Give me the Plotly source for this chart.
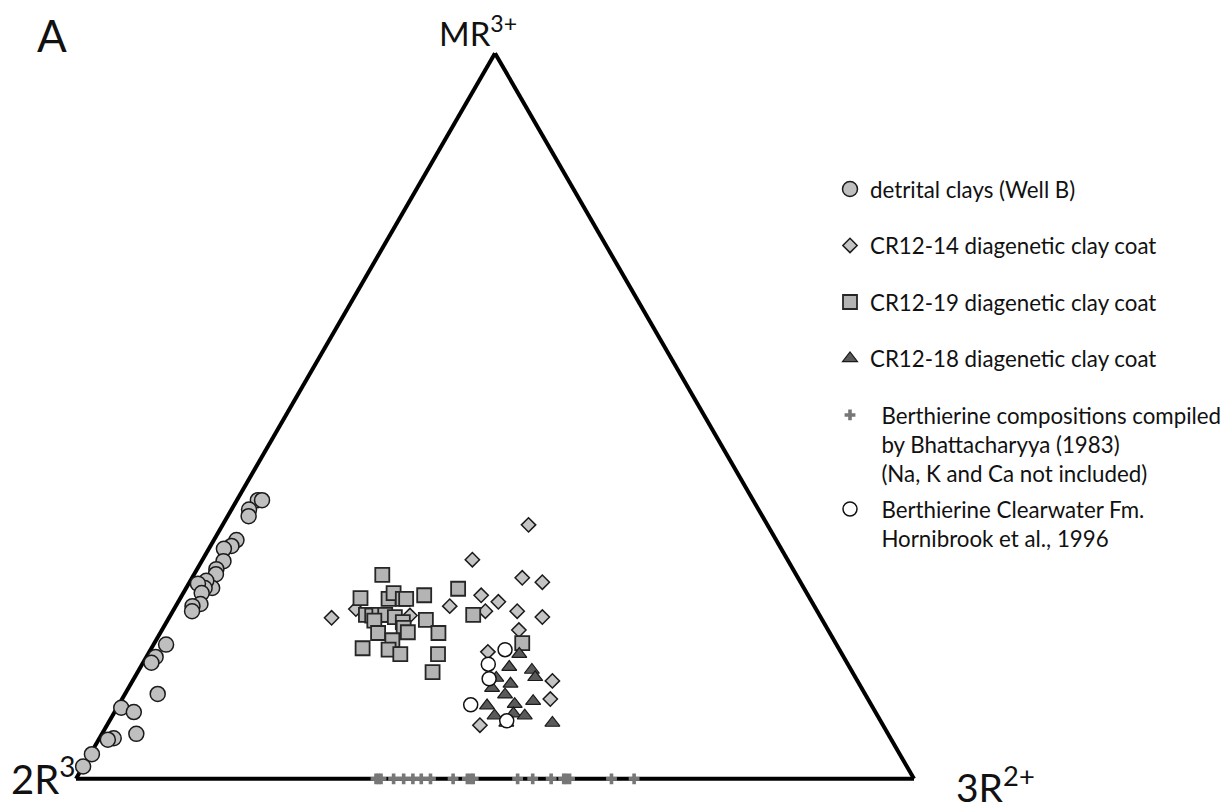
import plotly.graph_objects as go

# ---- data: ternary percentages (a = MR3+, c = 3R2+, b = 2R3 = remainder) ----
detrital_a = [38.4, 38.4, 37.1, 36.2, 32.9, 32.1, 31.7, 30.0, 28.9, 28.2, 26.3, 27.3, 26.3, 26.9, 25.6,
              24.1, 23.8, 23.1, 18.5, 16.8, 16.0, 11.7, 9.8, 9.2, 5.6, 5.4, 6.2, 3.4, 1.7]
detrital_c = [2.5, 3.0, 2.1, 2.5, 2.7, 2.5, 1.8, 2.6, 2.3, 2.6, 3.1, 1.9, 2.2, 1.1, 2.2,
              2.8, 2.0, 2.3, 1.5, 1.1, 1.0, 3.9, 0.5, 2.3, 1.7, 1.1, 4.1, 0.2, 0.0]

cr14_a = [22.2, 23.4, 22.5, 23.8, 35.0, 30.2, 27.7, 27.1, 25.3, 24.4, 23.1, 23.1, 22.3, 20.5, 17.5, 13.5, 11.0, 7.4]
cr14_c = [19.4, 21.7, 28.6, 32.7, 36.5, 32.2, 39.4, 42.1, 35.7, 38.2, 37.3, 41.1, 44.5, 42.6, 40.4, 50.1, 51.1, 44.5]

cr19_a = [28.1, 24.9, 24.8, 25.6, 24.8, 24.8, 25.3, 22.6, 22.5, 22.6, 22.6, 22.3, 21.8, 21.6, 20.8, 20.2, 21.9,
          20.1, 20.1, 19.1, 18.0, 17.8, 17.2, 17.2, 14.7, 26.2, 22.6, 18.7]
cr19_c = [22.5, 21.5, 24.9, 25.1, 26.6, 27.0, 28.9, 23.3, 24.1, 24.9, 25.6, 26.9, 24.7, 28.2, 28.7, 29.5, 30.8,
          26.0, 33.2, 28.2, 25.2, 28.4, 30.1, 34.6, 35.2, 32.5, 36.1, 43.9]

cr18_a = [17.2, 15.4, 15.0, 14.0, 13.9, 13.1, 12.5, 11.6, 10.7, 10.3, 10.1, 8.7, 9.0, 8.7, 7.7, 7.7]
cr18_c = [44.3, 44.0, 46.9, 47.8, 43.2, 45.3, 43.4, 45.4, 49.2, 47.2, 44.0, 45.6, 47.7, 49.2, 47.5, 53.0]

bhatt_a = [0.0] * 20
bhatt_c = [35.8, 36.1, 36.4, 37.9, 39.1, 40.2, 41.2, 42.3, 45.0, 46.7, 47.1, 47.4,
           52.7, 54.5, 56.7, 58.2, 58.5, 58.9, 63.9, 66.6]

clear_a = [17.8, 15.8, 13.8, 10.2, 8.0]
clear_c = [42.3, 41.3, 42.4, 42.0, 47.4]

NB = "\u00a0\u00a0"
names = ["detrital clays (Well B)",
         "CR12-14 diagenetic clay coat",
         "CR12-19 diagenetic clay coat",
         "CR12-18 diagenetic clay coat",
         NB + "Berthierine compositions compiled<br>" + NB + "by Bhattacharyya (1983)<br>" + NB + "(Na, K and Ca not included)",
         NB + "Berthierine Clearwater Fm.<br>" + NB + "Hornibrook et al., 1996"]


def rest(a, c):
    return [round(100 - ai - ci, 2) for ai, ci in zip(a, c)]


W, H = 1231, 808
fig = go.Figure()

series = [
    (detrital_a, detrital_c, dict(symbol="circle", size=15, color="#bfbfbf", line=dict(color="#1a1a1a", width=1.5)), "g1", "legend"),
    (cr14_a, cr14_c, dict(symbol="diamond", size=11, color="#c4c4c4", line=dict(color="#1a1a1a", width=1.5)), "g2", "legend"),
    (cr19_a, cr19_c, dict(symbol="square", size=14, color="#b4b4b4", line=dict(color="#262626", width=1.8)), "g3", "legend"),
    (cr18_a, cr18_c, dict(symbol="triangle-up", size=13, color="#5a5a5a", line=dict(color="#1a1a1a", width=1.2)), "g4", "legend"),
    (bhatt_a, bhatt_c, dict(symbol="cross", size=9, color="#777777", line=dict(width=0)), "g5", "legend"),
    (clear_a, clear_c, dict(symbol="circle", size=14, color="white", line=dict(color="#111111", width=1.5)), "g6", "legend2"),
]

for (a, c, marker, grp, leg), name in zip(series, names):
    fig.add_trace(go.Scatterternary(
        a=a, b=rest(a, c), c=c, mode="markers", name=name, marker=marker,
        legendgroup=grp, legend=leg, cliponaxis=False, hoverinfo="skip"))

axis_style = dict(showline=True, linewidth=4, linecolor="black", showgrid=False,
                  showticklabels=False, ticks="", layer="below traces", title=dict(text=""))

x0, x1 = 68 / W, 906 / W
y0, y1 = 1 - 771 / H, 1 - 45 / H

legend_font = dict(family="Lato", size=22.3, color="#111111")

fig.update_layout(
    width=W, height=H,
    margin=dict(l=0, r=0, t=0, b=0),
    paper_bgcolor="white",
    font=dict(family="Lato", color="#111111"),
    ternary=dict(sum=100, bgcolor="white",
                 domain=dict(x=[x0, x1], y=[y0, y1]),
                 aaxis=axis_style, baxis=axis_style, caxis=axis_style),
    legend=dict(x=822 / W, xanchor="left", y=1 - 160 / H, yanchor="top",
                font=legend_font, traceorder="grouped", tracegroupgap=24.5, valign="top",
                bgcolor="rgba(0,0,0,0)", itemsizing="trace"),
    legend2=dict(x=822 / W, xanchor="left", y=1 - 480 / H, yanchor="top",
                 font=legend_font, valign="top",
                 bgcolor="rgba(0,0,0,0)", itemsizing="trace"),
    showlegend=True,
)

ann = [
    dict(text="A", x=44 / W, y=1.0, size=44, ya="top"),
    dict(text="MR<sup>3+</sup>", x=470 / W, y=1.0, size=33, ya="top"),
    dict(text="2R<sup>3</sup>", x=35 / W, y=1 - 768 / H, size=40, ya="middle"),
    dict(text="3R<sup>2+</sup>", x=987 / W, y=1 - 776 / H, size=39, ya="middle"),
]
for t in ann:
    fig.add_annotation(text=t["text"], x=t["x"], y=t["y"], xref="paper", yref="paper",
                       xanchor="center", yanchor=t["ya"], showarrow=False, borderpad=0,
                       font=dict(family="Lato", size=t["size"], color="#111111"))

fig.write_html("out.html")
